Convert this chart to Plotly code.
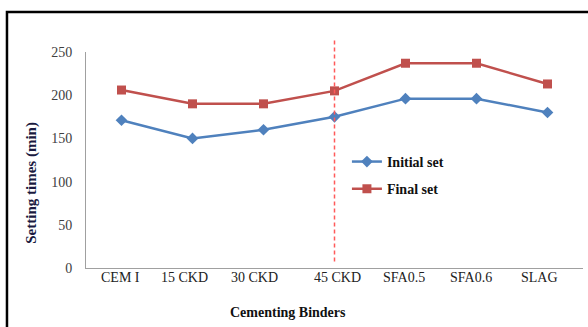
import plotly.graph_objects as go

categories = ["CEM I", "15 CKD", "30 CKD", "45 CKD", "SFA0.5", "SFA0.6", "SLAG"]
initial_set = [171, 150, 160, 175, 196, 196, 180]
final_set = [206, 190, 190, 205, 237, 237, 213]
y_ticks = [0, 50, 100, 150, 200, 250]

serif = "Liberation Serif"

fig = go.Figure()
fig.add_trace(go.Scatter(
    x=categories, y=initial_set, name="Initial set", mode="lines+markers",
    line=dict(color="#4F81BD", width=2.5),
    marker=dict(symbol="diamond", size=9, color="#4F81BD"),
    legendgroup="a",
))
fig.add_trace(go.Scatter(
    x=categories, y=final_set, name="Final set", mode="lines+markers",
    line=dict(color="#C0504D", width=2.5),
    marker=dict(symbol="square", size=9, color="#C0504D"),
    legendgroup="b",
))

idx = categories.index("45 CKD")
fig.add_shape(type="line", xref="x", yref="paper", x0=idx, x1=idx, y0=0.03, y1=1.065,
              line=dict(color="#FF5A5A", width=1.5, dash="4px,3px"))
# outer frame
fig.add_shape(type="rect", xref="paper", yref="paper", x0=-0.159, x1=1.05, y0=-0.4, y1=1.185,
              line=dict(color="black", width=2.5))

# x tick labels as annotations (slightly offset as in the original)
label_shifts = [-1, -8, -9, 3, -2, -6, -8]
for cat, sh in zip(categories, label_shifts):
    fig.add_annotation(x=cat, xref="x", y=-0.042, yref="paper", text=cat, showarrow=False,
                       xshift=sh, yanchor="middle",
                       font=dict(family=serif, size=14, color="#222"))

fig.add_annotation(x=0.406, y=-0.204, xref="paper", yref="paper", text="<b>Cementing Binders</b>",
                   showarrow=False, xanchor="center", yanchor="middle",
                   font=dict(family=serif, size=14, color="#111"))
fig.add_annotation(x=-0.109, y=0.394, xref="paper", yref="paper", text="<b>Setting times (min)</b>",
                   showarrow=False, xanchor="center", yanchor="middle", textangle=-90,
                   font=dict(family=serif, size=15, color="#1a1a40"))

fig.update_layout(
    width=588, height=327,
    margin=dict(l=86, r=5, t=52, b=59),
    paper_bgcolor="white", plot_bgcolor="white",
    font=dict(family=serif, size=12, color="#222"),
    showlegend=True,
    legend=dict(x=0.525, y=0.565, xanchor="left", yanchor="top",
                bgcolor="rgba(0,0,0,0)", traceorder="grouped", tracegroupgap=6,
                font=dict(family=serif, size=14, color="#111", weight="bold")),
    xaxis=dict(type="category", range=[-0.5, 6.5], showline=True, linecolor="#A0A0A0",
               linewidth=1, showgrid=False, ticks="", showticklabels=False),
    yaxis=dict(range=[0, 250], tickvals=y_ticks, showline=True, linecolor="#A0A0A0",
               linewidth=1, showgrid=False, ticks="", zeroline=False, ticklabelstandoff=10,
               tickfont=dict(family=serif, size=14, color="#404040")),
)

fig.write_html("out.html")
